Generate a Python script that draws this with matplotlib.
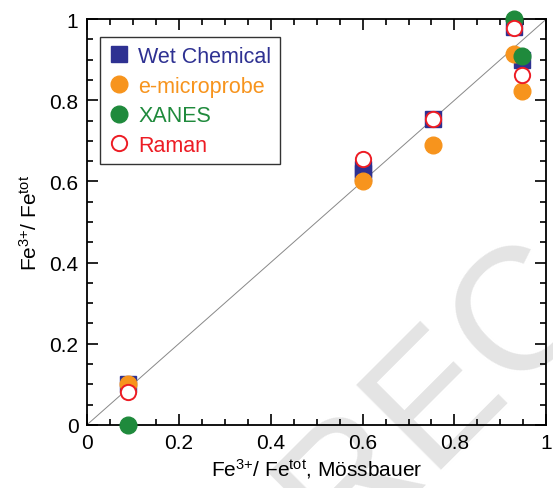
import numpy as np
import matplotlib.pyplot as plt
from matplotlib.ticker import MultipleLocator

plt.rcParams['font.family'] = ['Liberation Sans', 'DejaVu Sans']
plt.rcParams['mathtext.fontset'] = 'custom'
plt.rcParams['mathtext.rm'] = 'Liberation Sans'
plt.rcParams['mathtext.it'] = 'Liberation Sans'

# Fe3+/Fetot from Mossbauer (x) against the other methods (y)
wet_x = [0.09, 0.60, 0.60, 0.753, 0.93, 0.946]
wet_y = [0.10, 0.63, 0.62, 0.753, 0.98, 0.90]

probe_x = [0.09, 0.60, 0.753, 0.93, 0.946]
probe_y = [0.10, 0.60, 0.69, 0.915, 0.823]

xanes_x = [0.09, 0.93, 0.946]
xanes_y = [0.00, 1.00, 0.91]

raman_x = [0.09, 0.60, 0.753, 0.93, 0.946]
raman_y = [0.08, 0.655, 0.753, 0.978, 0.862]

blue = '#2e3192'
orange = '#f7941d'
green = '#1f8a3c'
red = '#ed1c24'

fig = plt.figure(figsize=(5.53, 4.89), dpi=100)
ax = fig.add_axes([0.157, 0.129, 0.831, 0.83])
ax.set_facecolor('none')

# faint background lettering
fig.text(0.79, 0.19, 'REC', fontsize=125, color='#e4e4e4', rotation=45,
         ha='center', va='center', zorder=-5)

ax.plot([0, 1], [0, 1], color='#888888', lw=0.7, zorder=1)

ax.plot(wet_x, wet_y, 's', ms=11, color=blue, mec=blue, label='Wet Chemical', zorder=2)
ax.plot(probe_x, probe_y, 'o', ms=12, color=orange, mec=orange, label='e-microprobe', zorder=3)
ax.plot(xanes_x, xanes_y, 'o', ms=12, color=green, mec=green, label='XANES', zorder=4,
        clip_on=False)
ax.plot(raman_x, raman_y, 'o', ms=11, mfc='white', mec=red, mew=1.4, label='Raman', zorder=5)

ax.set_xlim(0, 1)
ax.set_ylim(0, 1)
ax.xaxis.set_major_locator(MultipleLocator(0.2))
ax.yaxis.set_major_locator(MultipleLocator(0.2))
ax.xaxis.set_minor_locator(MultipleLocator(0.05))
ax.yaxis.set_minor_locator(MultipleLocator(0.05))
ax.tick_params(which='both', direction='in', top=True, right=True, labelsize=15, width=1.2)
ax.tick_params(which='major', length=8, pad=6)
ax.tick_params(which='minor', length=4)
ax.xaxis.set_major_formatter(plt.FuncFormatter(lambda v, p: f'{v:g}'))
ax.yaxis.set_major_formatter(plt.FuncFormatter(lambda v, p: f'{v:g}'))
for s in ax.spines.values():
    s.set_linewidth(1.3)

ax.set_xlabel(r'Fe$^{3{+}}$/ Fe$^{\rm tot}$, Mössbauer', fontsize=15, labelpad=3)
ax.set_ylabel(r'Fe$^{3{+}}$/ Fe$^{\rm tot}$', fontsize=15, labelpad=6)

leg = ax.legend(loc='upper left', bbox_to_anchor=(0.028, 0.955), fontsize=15.5,
                frameon=True, fancybox=False, edgecolor='black', handletextpad=0.4,
                handlelength=1.0, labelspacing=0.4, borderpad=0.4, borderaxespad=0)
leg.get_frame().set_linewidth(1.0)
for txt, c in zip(leg.get_texts(), [blue, orange, green, red]):
    txt.set_color(c)

fig.savefig('out.png', dpi=100)
